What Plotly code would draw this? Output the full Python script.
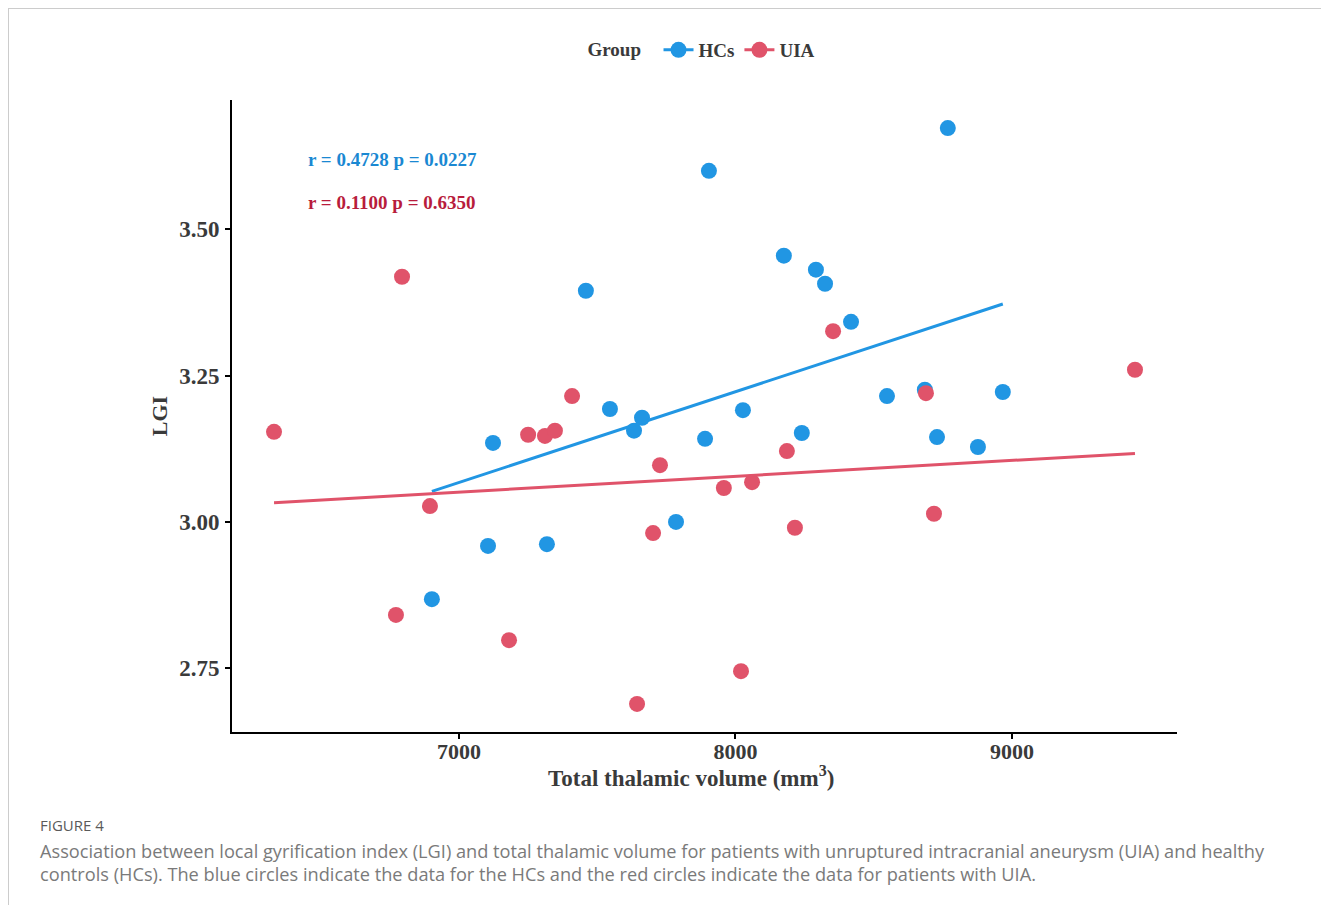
import numpy as np
import plotly.graph_objects as go

# HCs group
hc_volume = [8768, 7904, 7459, 8175, 8291, 8324, 8418, 8548, 8685, 8967, 7546, 7662,
             7633, 7123, 8027, 7890, 8240, 8729, 8877, 7785, 7105, 7318, 6902]
hc_lgi = [3.673, 3.600, 3.395, 3.455, 3.431, 3.407, 3.342, 3.215, 3.226, 3.222, 3.193, 3.178,
          3.156, 3.135, 3.191, 3.142, 3.152, 3.145, 3.128, 3.000, 2.959, 2.962, 2.868]

# UIA group
uia_volume = [6331, 6794, 7409, 7250, 7311, 7347, 8353, 9445, 8689, 7727, 8186, 7958,
              8060, 6895, 7702, 8215, 8718, 6772, 7181, 8020, 7644]
uia_lgi = [3.154, 3.419, 3.215, 3.149, 3.147, 3.156, 3.326, 3.260, 3.220, 3.097, 3.121, 3.058,
           3.068, 3.027, 2.981, 2.990, 3.014, 2.841, 2.798, 2.745, 2.689]

groups = ["HCs", "UIA"]
stats_text = ["r = 0.4728 p = 0.0227", "r = 0.1100 p = 0.6350"]
x_ticks = [7000, 8000, 9000]
y_ticks = [2.75, 3.00, 3.25, 3.50]
y_tick_labels = ["2.75", "3.00", "3.25", "3.50"]
x_title = "Total thalamic volume (mm<sup>3</sup>)"
y_title = "LGI"

BLUE = "#2196E3"
RED = "#E0536A"
BLUE_TXT = "#1A88D2"
RED_TXT = "#B81C3C"
SERIF = "Liberation Serif, Times New Roman, serif"
TXT = "#3a3a3a"

# figure geometry (page body has an 8px margin)
W, H = 1321, 897
L, R, T, B = 224, 152, 92, 173
PW = W - L - R
PH = H - T - B


def px(x):
    return (x - 8 - L) / PW


def py(y):
    return (H - B - (y - 8)) / PH


fig = go.Figure()

for name, xs, ys, col in [(groups[0], hc_volume, hc_lgi, BLUE), (groups[1], uia_volume, uia_lgi, RED)]:
    xs = np.array(xs, dtype=float)
    ys = np.array(ys, dtype=float)
    k, b = np.polyfit(xs, ys, 1)
    xl = np.array([xs.min(), xs.max()])
    fig.add_trace(go.Scatter(x=xs, y=ys, mode="markers", name=name, legendgroup=name,
                             showlegend=False,
                             marker=dict(color=col, size=16, line=dict(width=0))))
    fig.add_trace(go.Scatter(x=xl, y=k * xl + b, mode="lines", name=name, legendgroup=name,
                             line=dict(color=col, width=3),
                             showlegend=False, hoverinfo="skip"))
    # legend entry
    fig.add_trace(go.Scatter(x=[None], y=[None], mode="lines+markers", name=name, legendgroup=name,
                             line=dict(color=col, width=3), marker=dict(color=col, size=16)))

fig.update_layout(
    width=W, height=H,
    margin=dict(l=L, r=R, t=T, b=B),
    paper_bgcolor="white", plot_bgcolor="white",
    showlegend=True,
    legend=dict(orientation="h", x=px(703), xanchor="center", y=py(50), yanchor="middle",
                title=dict(text="Group  ", font=dict(family=SERIF, size=19, color=TXT, weight="bold")),
                font=dict(family=SERIF, size=19, color=TXT, weight="bold"),
                itemwidth=30, tracegroupgap=0),
    font=dict(family=SERIF, color=TXT),
)

fig.update_xaxes(range=[6179, 9597], tickvals=x_ticks, ticktext=[str(v) for v in x_ticks],
                 showline=True, linecolor="black", linewidth=2, ticks="outside",
                 ticklen=5, tickwidth=2, tickcolor="black", showgrid=False, zeroline=False,
                 ticklabelstandoff=-6,
                 tickfont=dict(family=SERIF, size=22, color=TXT, weight="bold"))
fig.update_yaxes(range=[2.641, 3.721], tickvals=y_ticks, ticktext=y_tick_labels,
                 showline=True, linecolor="black", linewidth=2, ticks="outside",
                 ticklen=5, tickwidth=2, tickcolor="black", showgrid=False, zeroline=False,
                 ticklabelstandoff=1,
                 tickfont=dict(family=SERIF, size=23, color=TXT, weight="bold"),
                 title=dict(text="<b>" + y_title + "</b>", font=dict(family=SERIF, size=22, color=TXT),
                            standoff=5))

# x-axis title
fig.add_annotation(x=px(691), y=py(776), xref="paper", yref="paper", xanchor="center", yanchor="middle",
                   text="<b>" + x_title + "</b>", showarrow=False,
                   font=dict(family=SERIF, size=23, color=TXT))

fig.add_annotation(x=px(306), y=py(160), xref="paper", yref="paper", xanchor="left", yanchor="middle",
                   text="<b>" + stats_text[0] + "</b>", showarrow=False,
                   font=dict(family=SERIF, size=19, color=BLUE_TXT))
fig.add_annotation(x=px(306), y=py(202), xref="paper", yref="paper", xanchor="left", yanchor="middle",
                   text="<b>" + stats_text[1] + "</b>", showarrow=False,
                   font=dict(family=SERIF, size=19, color=RED_TXT))

# caption
CAP = "Open Sans, sans-serif"
fig.add_annotation(x=px(38), y=py(825), xref="paper", yref="paper",
                   xanchor="left", yanchor="middle", showarrow=False, text="FIGURE 4",
                   font=dict(family=CAP, size=15, color="#5a5a5a"))
fig.add_annotation(x=px(38), y=py(851), xref="paper", yref="paper",
                   xanchor="left", yanchor="middle", showarrow=False, align="left",
                   text="Association between local gyrification index (LGI) and total thalamic volume for patients with unruptured intracranial aneurysm (UIA) and healthy",
                   font=dict(family=CAP, size=18.2, color="#7a7a7a"))
fig.add_annotation(x=px(38), y=py(874), xref="paper", yref="paper",
                   xanchor="left", yanchor="middle", showarrow=False, align="left",
                   text="controls (HCs). The blue circles indicate the data for the HCs and the red circles indicate the data for patients with UIA.",
                   font=dict(family=CAP, size=18.2, color="#7a7a7a"))

# frame lines
fig.add_shape(type="line", xref="paper", yref="paper", x0=px(8), x1=px(1329), y0=py(8), y1=py(8),
              line=dict(color="#cccccc", width=2))
fig.add_shape(type="line", xref="paper", yref="paper", x0=px(8), x1=px(8), y0=py(8), y1=py(905),
              line=dict(color="#cccccc", width=2))

fig.write_html("out.html")
